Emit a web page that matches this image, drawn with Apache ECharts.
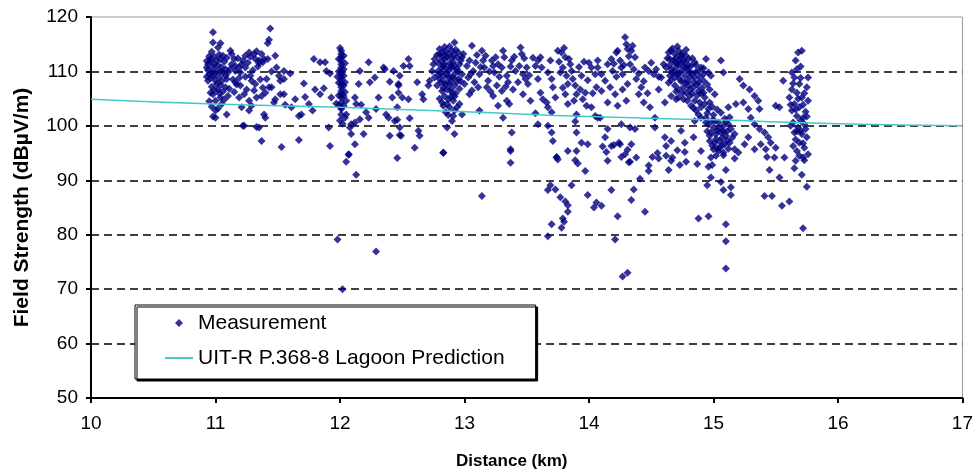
<!DOCTYPE html>
<html>
<head>
<meta charset="utf-8">
<script src="https://cdn.jsdelivr.net/npm/echarts@6/dist/echarts.min.js"></script>
<style>html,body{margin:0;padding:0;background:#fff;}#chart{width:976px;height:476px;}</style>
</head>
<body>
<div id="chart"></div>
<script>
// Prediction curve (km, dBµV/m)
const predDistance = [10, 11, 12, 13, 14, 15, 16, 17];
const predField = [104.9, 104.0, 103.4, 102.6, 101.7, 101.1, 100.4, 100.0];

// Measurements [km, dBµV/m], grouped by distance band
const meas11 = [
[10.98,117.2],[10.98,115.3],[11.04,115.2],[11.02,114.4],[10.96,112.3],[10.94,111.3],[10.93,110.7],[10.98,110.7],[11.01,110.1],[10.97,109.8],[10.94,108.3],[11.0,108.3],[11.04,112.3],[11.05,110.7],[10.96,106.1],[10.98,105.8],[11.0,104.6],[11.04,105.2],[11.05,104.0],[11.02,106.7],[11.0,101.5],[11.08,109.2],[11.09,108.6],[11.1,109.8],[11.08,107.1],[11.1,105.5],[11.09,102.1],[11.12,113.8],[11.13,113.2],[11.13,111.3],[11.16,111.0],[11.16,110.1],[11.19,110.7],[11.2,109.8],[11.21,111.3],[11.24,110.7],[11.24,112.9],[11.28,112.7],[11.31,113.2],[11.32,112.3],[11.35,112.0],[11.37,113.2],[11.39,112.3],[11.16,108.0],[11.2,107.4],[11.19,105.2],[11.23,105.8],[11.27,104.6],[11.27,102.8],[11.29,103.7],[11.33,105.2],[11.32,107.7],[11.37,105.5],[11.4,106.1],[11.41,108.6],[11.43,107.1],[11.39,102.1],[11.4,101.5],[11.35,99.7],[11.28,109.2],[11.23,100.0],[11.37,97.2],[11.45,107.1],[11.47,104.3],[11.48,104.9],[11.48,112.9],[11.49,110.7],[11.44,117.9],[11.43,115.8],[11.42,115.2],
[10.95,109.5],[10.96,111.8],[10.99,112.7],[11.0,109.6],[11.02,111.2],[11.03,108.9],[10.94,110.2],[11.06,109.8],[11.07,111.8],[11.04,107.5],[11.06,106.3],[10.97,107.2],[11.12,110.5],[11.14,108.5],[11.17,107.6],[11.11,106.8],[11.18,112.4],[11.26,111.6],[11.3,110.2],[11.34,110.9],[11.36,108.5],[11.38,111.7],[11.42,112.3],[11.25,106.7],[11.21,103.4],[10.98,101.7],[11.0,102.8],[10.97,103.5],[11.22,100.0],[11.33,99.8],
[10.93,109.0],[10.95,112.8],[10.97,113.6],[10.99,111.3],[11.01,107.7],[11.03,113.1],[11.05,108.2],[11.07,104.8],[10.95,104.5],[10.99,106.6],[11.02,103.2],[11.08,110.4],[11.09,112.5],[10.96,108.8],[11.01,112.0],[11.04,110.0],[11.06,112.9],[10.93,111.9],[10.98,109.1],[11.03,106.0],
[11.15,112.3],[11.22,112.0],[11.27,113.5],[11.33,113.7],[11.35,111.5],[11.29,108.3],[11.24,109.0],[11.19,108.8],[11.15,106.2],[11.31,106.5],[11.38,107.0],[11.45,110.0]
];
const meas12 = [
[11.51,109.2],[11.52,108.3],[11.55,110.1],[11.55,108.6],[11.6,109.6],[11.52,105.8],[11.55,105.8],[11.56,103.9],[11.61,103.4],[11.64,104.9],[11.67,101.8],[11.69,102.1],[11.67,97.4],[11.53,96.1],[11.71,107.8],[11.72,105.3],[11.75,104.0],[11.78,102.8],[11.79,112.3],[11.84,111.7],[11.88,111.7],[11.89,110.1],[11.92,109.6],[11.8,106.7],[11.84,105.8],[11.87,106.9],[11.93,105.2],[11.97,104.1],[11.91,99.7],[11.92,96.3],
[12.01,113.8],[12.01,113.2],[12.01,112.6],[12.01,112.0],[12.01,111.3],[12.01,110.7],[12.01,110.1],[12.01,109.5],[12.01,108.9],[12.01,108.3],[12.01,107.7],[12.01,107.1],[12.01,106.4],[12.01,105.8],[12.01,105.2],[12.01,104.3],[12.01,103.4],[12.01,102.1],[12.03,112.9],[12.03,110.4],[12.03,109.2],[12.03,107.4],[12.03,105.5],[12.03,103.7],
[11.99,112.3],[11.99,110.0],[11.99,107.9],[11.99,105.6],[11.99,103.8],[12.0,101.0],[12.02,100.4],[12.04,111.5],[12.04,108.0],[12.04,106.2],[12.05,104.6],[11.98,109.0],[12.0,114.3],
[12.05,102.1],[12.08,99.7],[12.09,98.5],[12.12,96.6],[12.07,94.8],[12.04,101.5],[12.01,103.1],[12.16,110.1],[12.23,111.7],[12.24,108.0],[12.15,107.7],[12.12,105.2],[12.13,104.0],[12.17,103.9],[12.21,102.5],[12.23,101.5],[12.19,98.5],[12.09,100.3],[12.12,100.6],[12.16,101.2],[12.29,103.1],[12.28,108.9],[12.31,105.2],[12.35,110.7],[12.36,110.4],[12.37,102.1],[12.4,98.2],[12.42,105.2],[12.43,110.1],[12.44,100.9],[12.47,107.7],[12.47,106.1],[12.46,103.4],[12.39,101.5],[12.4,108.1],[12.46,101.1],[12.48,98.3]
];
const meas13 = [
[12.47,107.4],[12.48,109.2],[12.51,111.0],[12.55,112.3],[12.56,111.0],[12.5,105.2],[12.55,104.9],[12.48,99.7],[12.49,98.2],[12.63,99.1],[12.64,98.2],[12.62,108.0],[12.66,105.8],[12.67,104.9],[12.6,96.0],[12.71,107.4],[12.72,108.3],[12.74,110.1],[12.75,111.3],[12.76,112.3],[12.56,101.4],
[12.8,114.1],[12.82,113.5],[12.83,112.9],[12.84,112.3],[12.87,113.2],[12.9,113.8],[12.92,115.3],[12.94,112.6],[12.91,111.7],[12.84,111.3],[12.82,110.7],[12.79,110.1],[12.87,110.1],[12.9,110.7],[12.94,110.4],[12.96,111.3],[12.98,109.5],[12.95,108.6],[12.91,108.9],[12.87,108.9],[12.83,109.2],[12.8,108.6],[12.84,108.0],[12.88,107.7],[12.92,107.4],[12.86,106.7],[12.82,106.4],[12.9,106.1],[12.84,105.5],[12.87,104.9],[12.91,104.6],[12.83,103.7],[12.88,103.4],[12.92,102.8],[12.91,101.8],[12.98,102.1],[12.86,99.7],[12.92,98.5],[12.83,95.1],[12.76,108.9],[12.78,107.4],[12.98,112.6],[12.99,113.2],[13.0,107.7],[13.03,108.9],[13.06,114.7],[13.04,112.0],[13.07,110.1],[13.04,105.8],
[12.81,112.0],[12.85,113.8],[12.88,111.5],[12.93,109.8],[12.86,109.5],[12.89,108.3],[12.83,107.0],[12.93,106.0],[12.95,113.5],[12.8,105.0],[12.89,105.3],[12.85,102.5],[12.9,100.9],[12.96,104.0],[12.97,108.2],[12.79,111.5],[12.84,114.5],[12.92,111.0],
[12.78,113.0],[12.79,109.4],[12.81,108.0],[12.82,104.3],[12.85,110.5],[12.86,112.6],[12.88,114.6],[12.89,110.9],[12.9,112.4],[12.91,113.0],[12.93,114.0],[12.94,108.1],[12.95,110.0],[12.96,106.8],[12.97,112.0],[12.85,107.6],[12.89,106.7],[12.92,105.4],[12.87,102.0],[12.94,103.4],[12.81,109.8],[12.83,111.0],[12.86,104.0],[12.9,109.0],[12.8,113.1],
[13.08,108.0],[13.11,107.1],[13.12,109.5],[13.14,113.8],[13.15,112.0],[13.16,110.7],[13.19,108.3],[13.18,107.1],[13.22,112.0],[13.23,111.0],[13.24,109.8],[13.26,107.4],[13.23,105.5],[13.27,103.7],[13.31,113.8],[13.32,112.6],[13.3,110.7],[13.34,109.2],[13.35,108.0],[13.3,106.4],[13.36,104.0],[13.38,112.0],[13.39,106.7],[13.41,110.1],[13.45,114.4],[13.46,113.2],[13.47,109.5],[13.49,108.6],[13.5,110.7],[13.51,107.7],[13.53,104.6],[13.47,105.8],[13.38,98.8],[13.37,95.7],[13.12,102.8],[13.31,101.5],[13.34,104.6],
[13.02,111.0],[13.05,109.5],[13.09,111.6],[13.1,113.0],[13.13,110.8],[13.17,112.9],[13.2,110.0],[13.21,106.3],[13.25,112.6],[13.28,109.0],[13.33,107.2],[13.37,110.9],[13.4,112.7],[13.43,108.0],[13.44,111.0],[13.48,112.4],[13.52,109.3],[13.55,112.5],[13.27,111.3],[13.06,106.5]
];
const meas14 = [
[13.57,111.0],[13.59,112.0],[13.62,110.7],[13.61,112.6],[13.59,108.6],[13.61,106.1],[13.63,104.9],[13.66,104.3],[13.67,109.8],[13.69,112.0],[13.7,108.6],[13.71,107.1],[13.73,105.2],[13.67,103.4],[13.7,102.5],[13.75,113.8],[13.78,113.5],[13.81,112.6],[13.79,110.7],[13.77,109.8],[13.82,109.2],[13.83,107.7],[13.85,111.3],[13.86,110.1],[13.81,105.8],[13.83,104.0],[13.89,107.4],[13.9,105.8],[13.93,106.7],[13.94,109.2],[13.95,104.9],[13.98,103.7],[14.02,110.7],[14.05,109.5],[14.06,107.1],[14.07,112.0],[14.02,103.4],[13.9,102.1],[13.67,100.0],[13.59,100.3],[13.7,98.8],[13.71,97.2],[13.9,98.8],[13.94,96.9],[13.99,96.6],[14.07,101.5],[13.74,94.2],[13.83,95.4],[13.57,102.3],[13.89,100.8],
[13.76,111.8],[13.8,114.3],[13.84,112.3],[13.87,108.6],[13.92,110.8],[13.96,111.8],[13.99,108.4],[14.0,111.6],[14.03,106.0],[13.88,104.6],[13.97,106.1],[13.79,107.0],
[14.07,110.7],[14.1,109.5],[14.13,108.3],[14.15,111.3],[14.18,112.3],[14.19,110.1],[14.22,113.5],[14.23,113.8],[14.25,112.0],[14.26,110.7],[14.27,109.5],[14.29,116.3],[14.3,115.0],[14.31,114.1],[14.34,113.8],[14.35,114.7],[14.37,112.6],[14.33,111.3],[14.31,107.7],[14.17,107.1],[14.21,105.8],[14.23,103.7],[14.15,104.3],[14.1,106.4],[14.27,106.7],[14.3,104.6],[14.38,108.6],[14.4,105.8],[14.42,107.1],[14.45,110.7],[14.48,110.1],[14.52,109.5],[14.44,104.3],[14.49,103.4],[14.53,101.5],[14.56,106.7],[14.58,108.9],[14.6,111.3],[14.54,110.4],[14.15,99.4],[14.26,100.3],[14.33,99.7],[14.37,99.4],[14.13,97.9],[14.18,96.3],[14.25,96.6],[14.34,96.6],[14.09,101.5],[14.05,101.8],[14.11,96.2],[14.2,96.5],[14.24,96.9],
[14.2,111.4],[14.22,109.0],[14.28,111.2],[14.32,112.8],[14.36,110.4],[14.4,109.6],[14.44,108.2],[14.5,111.6],[14.56,109.0],[14.47,106.0]
];
const meas15 = [
[14.64,113.5],[14.66,113.8],[14.69,113.2],[14.72,113.8],[14.65,112.3],[14.68,112.0],[14.72,112.0],[14.74,112.6],[14.77,111.7],[14.8,112.3],[14.62,110.7],[14.66,110.4],[14.7,110.7],[14.74,110.1],[14.78,110.7],[14.82,111.0],[14.85,111.7],[14.88,110.1],[14.9,110.7],[14.94,112.3],[14.96,109.8],[14.98,109.2],[14.65,109.2],[14.69,108.9],[14.73,108.6],[14.77,109.2],[14.81,108.9],[14.85,108.9],[14.88,108.0],[14.92,108.3],[14.69,107.4],[14.72,106.7],[14.76,107.1],[14.8,107.4],[14.84,107.1],[14.88,106.4],[14.92,106.1],[14.97,106.7],[15.01,105.8],[14.66,105.5],[14.72,105.2],[14.76,104.9],[14.81,105.5],[14.85,104.6],[14.89,104.3],[14.93,105.2],[14.97,104.3],[14.82,103.7],[14.86,102.8],[14.9,103.4],[14.96,103.1],[14.9,101.5],[14.85,100.9],[14.94,101.5],[14.61,104.3],[15.06,112.0],[15.08,109.8],[15.12,103.4],[14.53,99.7],[14.61,97.9],[14.62,96.3],[14.66,97.2],[14.74,99.1],[14.77,96.9],[14.84,97.9],
[14.67,114.2],[14.7,112.5],[14.75,113.3],[14.78,112.9],[14.83,112.4],[14.71,111.4],[14.76,110.9],[14.81,109.8],[14.86,109.9],[14.74,108.2],[14.79,108.1],[14.87,107.6],[14.7,106.3],[14.78,106.1],[14.83,106.0],[14.91,107.0],[14.64,107.9],[14.68,110.0],[14.92,109.5],[14.95,107.6],
[14.63,112.4],[14.65,111.2],[14.67,109.7],[14.69,111.7],[14.71,109.5],[14.73,111.3],[14.74,113.0],[14.76,112.0],[14.77,108.0],[14.79,110.2],[14.8,111.1],[14.81,106.7],[14.83,109.6],[14.84,108.0],[14.86,111.2],[14.87,105.6],[14.89,109.0],[14.9,106.0],[14.92,110.6],[14.93,104.0],[14.7,104.9],[14.75,106.0],[14.66,108.4],[14.72,109.6],[14.79,104.6],[14.84,103.3],[14.88,102.1],[14.95,102.3],[14.78,114.0],[14.71,114.6],
[14.96,100.3],[15.0,99.7],[15.04,100.6],[15.08,100.0],[15.12,100.3],[15.14,99.4],[14.98,98.8],[15.02,98.5],[15.06,98.8],[15.1,98.2],[14.97,97.2],[15.01,96.9],[15.05,97.2],[15.09,96.6],[15.13,96.9],[15.17,98.5],[15.0,95.7],[15.04,95.4],[15.08,95.1],[15.02,94.5],[14.98,94.2],[15.17,95.7],
[14.99,101.0],[15.03,99.2],[15.07,97.8],[15.11,99.0],[15.05,96.0],[14.95,99.0],[15.0,102.0],[15.09,101.3],
[14.94,100.6],[14.97,98.2],[14.99,96.4],[15.01,100.9],[15.02,97.6],[15.03,95.9],[15.05,99.5],[15.07,96.5],[15.08,99.0],[15.1,100.8],[15.11,97.3],[15.12,95.8],[15.13,101.6],[15.15,97.8],[15.06,102.4],[14.99,103.5],[15.03,103.0],[15.08,94.6]
];
const meas16 = [
[15.21,108.6],[15.24,107.4],[15.29,106.7],[15.33,105.5],[15.36,104.6],[15.37,103.1],[15.18,104.0],[15.24,104.3],[15.28,103.1],[15.3,101.5],[15.33,100.3],[15.37,99.4],[15.41,98.8],[15.44,97.9],[15.46,96.9],[15.38,96.6],[15.33,95.7],[15.42,95.7],[15.5,103.7],[15.53,103.4],[15.56,108.3],[15.5,96.0],[15.49,94.2],[15.2,95.1],[15.25,96.6],[15.28,97.9],
[15.68,113.5],[15.71,113.8],[15.67,110.4],[15.63,109.8],[15.65,108.9],[15.69,107.7],[15.63,106.7],[15.67,106.1],[15.71,105.2],[15.61,105.2],[15.65,104.0],[15.69,103.4],[15.63,102.8],[15.67,101.8],[15.72,101.5],[15.64,100.6],[15.68,99.7],[15.73,100.3],[15.65,98.8],[15.71,98.5],[15.75,97.9],[15.69,96.9],[15.73,96.0],[15.67,95.4],[15.76,94.8],[15.72,94.2],[15.75,107.1],[15.76,104.6],[15.76,108.9],
[15.7,110.9],[15.66,112.0],[15.74,102.6],[15.7,99.0],[15.66,97.5],[15.72,103.9],
[15.62,103.9],[15.64,107.8],[15.66,103.0],[15.68,105.0],[15.7,101.0],[15.72,96.8],[15.74,99.4],[15.67,99.0],[15.64,96.3],[15.69,94.5],[15.75,101.7],[15.73,106.0],[15.7,108.8],[15.62,100.0],[15.66,93.6]
];
const measLow = [
[12.07,94.7],[12.05,93.4],[12.13,91.0],[12.46,94.1],[11.98,79.1],[12.29,76.9],[12.02,70.0],[12.83,95.0],[13.37,93.2],[13.37,95.4],[13.14,87.1],[13.74,94.3],[13.75,93.8],[13.89,93.7],[13.91,93.1],[13.97,91.7],[13.9,95.4],[13.69,89.1],[13.67,88.2],[13.73,88.3],[13.77,86.9],[13.81,86.1],[13.83,85.4],[13.83,84.2],[13.79,83.0],[13.8,82.4],[13.78,81.3],[13.7,81.9],[13.67,79.7],[13.86,89.1],[13.99,87.3],[14.06,85.9],[14.04,85.0],[14.14,95.2],[14.15,93.6],[14.29,94.8],[14.33,93.4],[14.38,94.2],[14.51,94.3],[14.56,94.0],[14.48,91.7],[14.41,90.3],[14.18,88.2],[14.36,88.3],[14.34,86.4],[14.1,85.3],[14.23,83.4],[14.45,84.2],[14.21,79.1],[14.27,72.3],[14.31,73.0],[14.64,91.9],[14.73,92.8],[14.67,94.2],[14.78,93.4],[14.87,93.0],[14.77,95.2],[14.9,95.4],[14.96,92.5],[14.99,92.8],[14.98,90.5],[14.95,89.1],[15.06,89.7],[15.08,88.2],[15.14,87.3],[15.14,88.7],[15.1,91.9],[15.17,94.0],[14.88,83.0],[14.96,83.4],[15.1,81.9],[15.1,78.8],[15.1,73.8],[15.41,87.1],[15.47,87.1],[15.55,85.3],[15.61,86.1],[15.72,81.2],[15.53,90.5],[15.45,91.9],[15.65,92.2],[15.71,91.0],[15.75,88.8],[15.73,93.7],[15.43,94.3],[15.57,94.2],
[14.26,94.3],[14.31,95.6],[14.32,93.3],[14.48,92.7],[14.55,95.0],[14.62,94.5],[14.66,93.6],[14.71,95.5]
];

const measurement = [].concat(meas11, meas12, meas13, meas14, meas15, meas16, measLow);
const prediction = predDistance.map((d, i) => [d, predField[i]]);

const FONT = '"Liberation Sans", Arial, sans-serif';
const chart = echarts.init(document.getElementById('chart'), null, {renderer: 'canvas'});
chart.setOption({
  animation: false,
  backgroundColor: '#fff',
  grid: {left: 91, right: 13, top: 17, bottom: 78, show: true, borderColor: '#999', borderWidth: 1, backgroundColor: 'transparent'},
  xAxis: {
    type: 'value', min: 10, max: 17, interval: 1,
    name: 'Distance (km)', nameLocation: 'middle', nameGap: 55,
    nameTextStyle: {fontFamily: FONT, fontSize: 17, fontWeight: 'bold', color: '#000', padding: [0, 30, 0, 0]},
    axisLine: {show: true, onZero: false, lineStyle: {color: '#000', width: 2}},
    axisTick: {show: true, length: 5, lineStyle: {color: '#000', width: 2}},
    axisLabel: {fontFamily: FONT, fontSize: 19, color: '#000', margin: 16},
    splitLine: {show: false}
  },
  yAxis: {
    type: 'value', min: 50, max: 120, interval: 10,
    name: 'Field Strength (dBµV/m)', nameLocation: 'middle', nameGap: 58,
    nameTextStyle: {fontFamily: FONT, fontSize: 21, fontWeight: 'bold', color: '#000'},
    axisLine: {show: true, onZero: false, lineStyle: {color: '#000', width: 2}},
    axisTick: {show: true, length: 5, lineStyle: {color: '#000', width: 2}},
    axisLabel: {fontFamily: FONT, fontSize: 19, color: '#000', margin: 13},
    splitLine: {show: true, showMinLine: false, showMaxLine: false, lineStyle: {color: '#000', width: 1.5, type: [8, 5]}}
  },
  legend: {
    left: 135, top: 305, orient: 'vertical',
    padding: [7, 31, 10, 30], itemGap: 13, itemWidth: 28, itemHeight: 8,
    symbolKeepAspect: true,
    backgroundColor: '#fff', borderColor: '#000', borderWidth: 1,
    shadowColor: '#000', shadowOffsetX: 2, shadowOffsetY: 2, shadowBlur: 0,
    textStyle: {fontFamily: FONT, fontSize: 21, lineHeight: 22, color: '#000'},
    data: [
      {name: 'Measurement', icon: 'path://M4,0 L8,4 L4,8 L0,4 Z'},
      {name: 'UIT-R P.368-8 Lagoon Prediction', icon: 'path://M0,0 L28,0 L28,2 L0,2 Z'}
    ]
  },
  series: [
    {
      name: 'Measurement', type: 'scatter', data: measurement,
      symbol: 'diamond', symbolSize: 8,
      itemStyle: {color: '#000080'}, z: 2
    },
    {
      name: 'UIT-R P.368-8 Lagoon Prediction', type: 'line', data: prediction,
      showSymbol: false, symbol: 'none', smooth: true,
      lineStyle: {color: '#45C8C8', width: 1.5}, itemStyle: {color: '#45C8C8'}, z: 3
    }
  ]
});
</script>
</body>
</html>
